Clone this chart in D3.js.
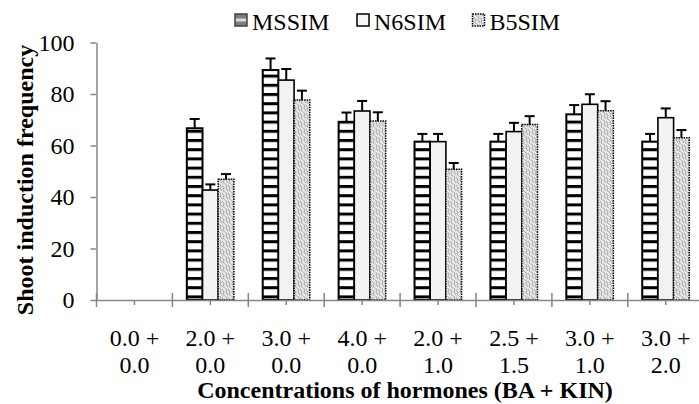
<!DOCTYPE html>
<html>
<head>
<meta charset="utf-8">
<script src="https://cdn.jsdelivr.net/npm/d3@7"></script>
<style>
  body { margin: 0; background: #fff; }
</style>
</head>
<body>
<svg id="chart"></svg>
<script>
// chart values
const catTop = ["0.0 +", "2.0 +", "3.0 +", "4.0 +", "2.0 +", "2.5 +", "3.0 +", "3.0 +"];
const catBottom = ["0.0", "0.0", "0.0", "0.0", "1.0", "1.5", "1.0", "2.0"];
const series = ["MSSIM", "N6SIM", "B5SIM"];
const mssim = [0, 66.7, 89.3, 69.2, 61.5, 61.5, 72.1, 61.5];
const n6sim = [0, 42.7, 85.4, 73.4, 61.5, 65.4, 76.0, 70.8];
const b5sim = [0, 46.9, 77.7, 69.5, 50.8, 68.2, 73.5, 63.0];
const mssimErr = [0, 3.6, 4.5, 3.6, 3.0, 3.0, 3.6, 3.0];
const n6simErr = [0, 2.2, 4.3, 3.9, 3.0, 3.4, 3.9, 3.6];
const b5simErr = [0, 2.0, 3.6, 3.4, 2.4, 3.2, 3.7, 3.0];
const yTicks = [0, 20, 40, 60, 80, 100];

const width = 699;
const height = 404;
const serif = "'Liberation Serif', Tinos, 'Times New Roman', Times, serif";

let svg = d3.select("#chart")
    .attr("width", width)
    .attr("height", height)
    .style("font-family", serif);

// patterns for the three series
let defs = svg.append("defs");

let stripe = defs.append("pattern")
    .attr("id", "stripes")
    .attr("patternUnits", "userSpaceOnUse")
    .attr("width", 10)
    .attr("height", 9.2)
    .attr("patternTransform", "translate(0,1)");
stripe.append("rect").attr("width", 10).attr("height", 9.2).attr("fill", "#fff");
stripe.append("rect").attr("y", 0).attr("width", 10).attr("height", 3).attr("fill", "#000");

let wave = defs.append("pattern")
    .attr("id", "wave")
    .attr("patternUnits", "userSpaceOnUse")
    .attr("width", 6)
    .attr("height", 8);
wave.append("rect").attr("width", 6).attr("height", 8).attr("fill", "#e4e4e4");
wave.append("path")
    .attr("d", "M-1,0 L2,4 L1,6 L4,10 M2,-2 L5,2 L4,4 L7,8")
    .attr("fill", "none")
    .attr("stroke", "#a8a8a8")
    .attr("stroke-width", 1);

let legendStripe = defs.append("pattern")
    .attr("id", "legendStripe")
    .attr("patternUnits", "userSpaceOnUse")
    .attr("width", 12)
    .attr("height", 12)
    .attr("x", 235).attr("y", 14);
legendStripe.append("rect").attr("width", 12).attr("height", 12).attr("fill", "#7f7f7f");
legendStripe.append("rect").attr("y", 4.5).attr("width", 12).attr("height", 3).attr("fill", "#d9d9d9");

const fills = {
    MSSIM: "url(#stripes)",
    N6SIM: "#f2f2f2",
    B5SIM: "url(#wave)"
};
const strokes = {
    MSSIM: { color: "#000", w: 2, dash: null },
    N6SIM: { color: "#000", w: 1.6, dash: null },
    B5SIM: { color: "#000", w: 1.5, dash: "1.5,1" }
};

// scales
const x0 = d3.scaleBand()
    .domain(d3.range(catTop.length))
    .range([96.5, 96.5 + 8 * 75.9])
    .padding(0);

const x1 = d3.scaleBand()
    .domain(series)
    .range([0, x0.bandwidth()])
    .paddingInner(0)
    .paddingOuter(0.92);

const y = d3.scaleLinear()
    .domain([0, 100])
    .range([300, 42.5]);

const values = { MSSIM: mssim, N6SIM: n6sim, B5SIM: b5sim };
const errors = { MSSIM: mssimErr, N6SIM: n6simErr, B5SIM: b5simErr };

let rows = [];
catTop.forEach((c, i) => {
    series.forEach(s => {
        rows.push({ i: i, s: s, v: values[s][i], e: errors[s][i] });
    });
});

// bars
let g = svg.append("g");
g.selectAll("rect.bar")
    .data(rows.filter(d => d.v > 0))
    .enter()
    .append("rect")
    .attr("class", "bar")
    .attr("x", d => x0(d.i) + x1(d.s))
    .attr("y", d => y(d.v))
    .attr("width", x1.bandwidth())
    .attr("height", d => y(0) - y(d.v))
    .attr("fill", d => fills[d.s])
    .attr("stroke", d => strokes[d.s].color)
    .attr("stroke-width", d => strokes[d.s].w)
    .attr("stroke-dasharray", d => strokes[d.s].dash);

// error bars (upper only)
let eb = g.selectAll("g.err")
    .data(rows.filter(d => d.e > 0))
    .enter()
    .append("g")
    .attr("class", "err")
    .attr("stroke", "#000")
    .attr("stroke-width", 2);
eb.append("line")
    .attr("x1", d => x0(d.i) + x1(d.s) + x1.bandwidth() / 2)
    .attr("x2", d => x0(d.i) + x1(d.s) + x1.bandwidth() / 2)
    .attr("y1", d => y(d.v))
    .attr("y2", d => y(d.v + d.e));
eb.append("line")
    .attr("x1", d => x0(d.i) + x1(d.s) + x1.bandwidth() / 2 - 5)
    .attr("x2", d => x0(d.i) + x1(d.s) + x1.bandwidth() / 2 + 5)
    .attr("y1", d => y(d.v + d.e))
    .attr("y2", d => y(d.v + d.e));

// y axis
let yAxis = svg.append("g")
    .attr("transform", "translate(96.5,0)")
    .call(d3.axisLeft(y).tickValues(yTicks).tickSize(6).tickSizeOuter(0).tickPadding(16));
yAxis.attr("font-family", null).attr("font-size", null);
yAxis.select(".domain").attr("stroke", "#868686").attr("stroke-width", 1.5);
yAxis.selectAll(".tick line").attr("stroke", "#868686").attr("stroke-width", 1.5);
yAxis.selectAll(".tick text")
    .style("font-family", serif)
    .style("font-size", "24px")
    .attr("fill", "#000")
    .attr("dy", "0.33em");

// x axis: minor ticks at centers, major ticks at category edges
let xAxis = svg.append("g")
    .attr("transform", "translate(0,300)")
    .call(d3.axisBottom(x0).tickSize(5).tickSizeOuter(0).tickFormat(""));
xAxis.select(".domain").attr("stroke", "#868686").attr("stroke-width", 1.5);
xAxis.selectAll(".tick line").attr("stroke", "#868686").attr("stroke-width", 1.5);
xAxis.selectAll("line.major")
    .data(d3.range(catTop.length + 1))
    .enter()
    .append("line")
    .attr("class", "major")
    .attr("x1", i => x0.range()[0] + i * x0.step())
    .attr("x2", i => x0.range()[0] + i * x0.step())
    .attr("y1", -7)
    .attr("y2", 7)
    .attr("stroke", "#868686")
    .attr("stroke-width", 1.5);

// category labels (two lines)
let labels = svg.append("g")
    .attr("text-anchor", "middle")
    .attr("fill", "#000");
labels.selectAll("text.top")
    .data(catTop)
    .enter()
    .append("text")
    .attr("class", "top")
    .style("font-family", serif)
    .style("font-size", "24px")
    .attr("x", (d, i) => x0(i) + x0.bandwidth() / 2)
    .attr("y", 346)
    .text(d => d);
labels.selectAll("text.bottom")
    .data(catBottom)
    .enter()
    .append("text")
    .attr("class", "bottom")
    .style("font-family", serif)
    .style("font-size", "24px")
    .attr("x", (d, i) => x0(i) + x0.bandwidth() / 2)
    .attr("y", 373)
    .text(d => d);

// axis titles
svg.append("text")
    .attr("x", 405)
    .attr("y", 398)
    .attr("text-anchor", "middle")
    .style("font-family", serif)
    .style("font-size", "24px")
    .style("font-weight", "bold")
    .text("Concentrations of hormones (BA + KIN)");

svg.append("text")
    .attr("transform", "translate(33,180) rotate(-90)")
    .attr("text-anchor", "middle")
    .style("font-family", serif)
    .style("font-size", "24px")
    .style("font-weight", "bold")
    .text("Shoot induction frequency");

// legend
const legendX = [235, 357, 472.5];
const legendFill = { MSSIM: "url(#legendStripe)", N6SIM: "#f7f7f7", B5SIM: "url(#wave)" };
let legend = svg.append("g");
series.forEach((s, i) => {
    legend.append("rect")
        .attr("x", legendX[i])
        .attr("y", 14)
        .attr("width", 12)
        .attr("height", 12)
        .attr("fill", legendFill[s])
        .attr("stroke", s === "MSSIM" ? "#404040" : "#000")
        .attr("stroke-width", 1.5)
        .attr("stroke-dasharray", s === "B5SIM" ? "1.5,1" : null);
    legend.append("text")
        .attr("x", legendX[i] + 17)
        .attr("y", 30)
        .style("font-family", serif)
        .style("font-size", "24px")
        .text(s);
});
</script>
</body>
</html>
